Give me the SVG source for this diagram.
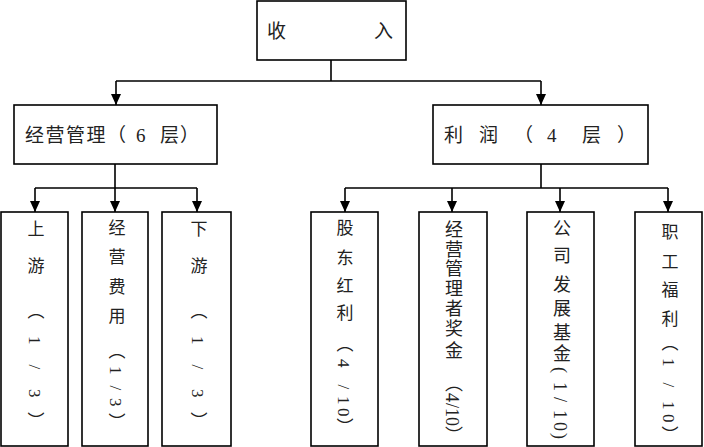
<svg xmlns="http://www.w3.org/2000/svg" width="704" height="447" viewBox="0 0 704 447">
<style>
.box{fill:#fff;stroke:#000;stroke-width:1.6}
.ln{fill:none;stroke:#000;stroke-width:1.6}
.arr{fill:none;stroke:#000;stroke-width:1.6;marker-end:url(#ah)}
text{font-family:"Liberation Serif","Noto Sans CJK SC",serif;fill:#222}
.h{font-size:19px}
.v{font-size:17px;writing-mode:vertical-rl}
.v18{font-size:18px;writing-mode:vertical-rl}
</style>
<defs>
<marker id="ah" markerUnits="userSpaceOnUse" markerWidth="10" markerHeight="11" refX="5" refY="11" orient="0" viewBox="0 0 10 11">
<path d="M0,0 L10,0 L5,11 z" fill="#000"/>
</marker>
</defs>
<g id="connectors">
<path class="ln" d="M331,60 V81 M116,81 H541 M115,164 V188 M35,188 H197 M541,164 V188 M345,188 H668"/>
<path class="arr" d="M116,81 V105"/>
<path class="arr" d="M541,81 V105"/>
<path class="arr" d="M35,188 V212"/>
<path class="arr" d="M115,188 V212"/>
<path class="arr" d="M197,188 V212"/>
<path class="arr" d="M345,188 V212"/>
<path class="arr" d="M452,188 V212"/>
<path class="arr" d="M560,188 V212"/>
<path class="arr" d="M668,188 V212"/>
</g>
<g id="income">
<rect class="box" x="257" y="1" width="149" height="59"/>
<text class="h" x="267 374" y="38">收入</text>
</g>
<g id="management">
<rect class="box" x="14" y="105" width="203" height="59"/>
<text class="h" x="25 45.5 66 86.5 107 136 160 180" y="142">经营管理（6层）</text>
</g>
<g id="profit">
<rect class="box" x="433" y="105" width="215" height="59"/>
<text class="h" x="444 479 514 547 582 617" y="142">利润（4层）</text>
</g>
<g id="upstream">
<rect class="box" x="1" y="212" width="67" height="234"/>
<text class="v" x="34" y="220.5 257.5 302.5 336 364.5 389 412.5">上游（1/3）</text>
</g>
<g id="opex">
<rect class="box" x="82" y="212" width="66" height="234"/>
<text class="v" x="115" y="219.5 248.5 278.5 307.5 342.5 366 385.5 398 413.5">经营费用（1/3）</text>
</g>
<g id="downstream">
<rect class="box" x="162" y="212" width="69" height="234"/>
<text class="v" x="197" y="220.5 257.5 302.5 336 364.5 389 412.5">下游（1/3）</text>
</g>
<g id="dividend">
<rect class="box" x="311" y="212" width="67" height="234"/>
<text class="v" x="343" y="219.5 249.5 277.5 304.5 335.5 359 384.5 396 408 418.5">股东红利（4/10）</text>
</g>
<g id="manager-bonus">
<rect class="box" x="419" y="212" width="68" height="234"/>
<text class="v18" x="452" y="220 240 259 279 299 319 341 374 393 403 408 417 426">经营管理者奖金（4/10）</text>
</g>
<g id="dev-fund">
<rect class="box" x="527" y="212" width="67" height="234"/>
<text class="v18" x="560" y="219 246 275 299 323 344 367 382 397 410 422 433">公司发展基金(1/10)</text>
</g>
<g id="welfare">
<rect class="box" x="635" y="212" width="67" height="234"/>
<text class="v" x="668" y="223.5 253.5 281.5 310.5 334.5 358 382.5 401 414 426.5">职工福利（1/10）</text>
</g>
</svg>
